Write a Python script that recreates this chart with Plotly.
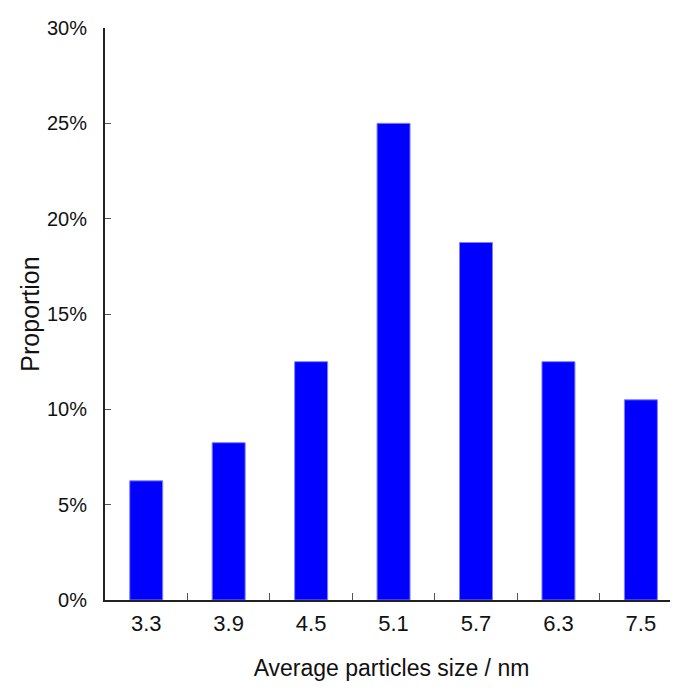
import plotly.graph_objects as go

sizes = ["3.3", "3.9", "4.5", "5.1", "5.7", "6.3", "7.5"]
proportion = [6.25, 8.25, 12.5, 25.0, 18.75, 12.5, 10.5]
y_ticks = [0, 5, 10, 15, 20, 25, 30]

FONT = "Liberation Sans, Arial, sans-serif"

fig = go.Figure(go.Bar(
    x=sizes, y=proportion, width=0.4,
    marker=dict(color="#0000FF", line=dict(color="#7f7fff", width=1)),
))

# page body has an 8px margin, so the figure is sized to fit the 678x693 window
fig.update_layout(
    width=670, height=685,
    margin=dict(l=97, r=0, t=20, b=93),
    plot_bgcolor="white", paper_bgcolor="white",
    showlegend=False,
    font=dict(family=FONT, color="#111111"),
)
fig.update_xaxes(
    type="category", range=[-0.5, 6.45], automargin=False,
    showline=True, linecolor="#222222", linewidth=2,
    ticks="inside", ticklen=7, tickcolor="#555555", tickwidth=1,
    tickson="boundaries",
    tickfont=dict(size=22, family=FONT),
    ticklabelstandoff=3,
    title=dict(text="Average particles size / nm", font=dict(size=23, family=FONT), standoff=24),
    showgrid=False, zeroline=False,
)
fig.update_yaxes(
    range=[0, 30], tickvals=y_ticks, ticktext=[f"{v}%" for v in y_ticks],
    automargin=False,
    showline=True, linecolor="#222222", linewidth=2,
    ticks="inside", ticklen=6, tickcolor="#555555", tickwidth=1,
    tickfont=dict(size=20, family=FONT),
    ticklabelstandoff=12,
    title=dict(text="Proportion", font=dict(size=25, family=FONT), standoff=0),
    showgrid=False, zeroline=False,
)

fig.write_html("out.html")
